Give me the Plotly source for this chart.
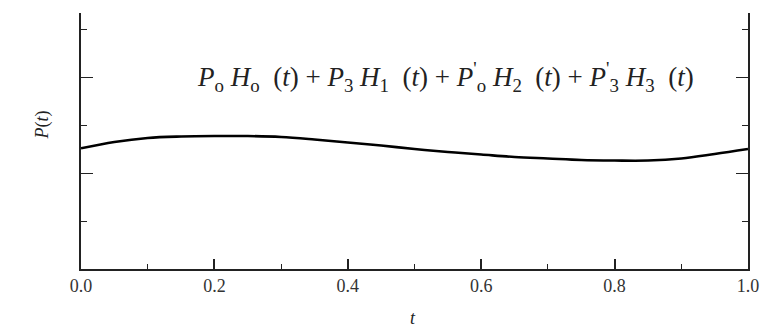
import plotly.graph_objects as go

t_vals = [0.0, 0.05, 0.1, 0.15, 0.2, 0.25, 0.3, 0.35, 0.4, 0.45, 0.5,
          0.55, 0.6, 0.65, 0.7, 0.75, 0.8, 0.85, 0.9, 0.95, 1.0]
p_vals = [1.257, 1.323, 1.365, 1.380, 1.385, 1.385, 1.375, 1.349, 1.318, 1.286, 1.250,
          1.219, 1.193, 1.167, 1.151, 1.135, 1.130, 1.130, 1.151, 1.198, 1.250]
x_tick_vals = [0.0, 0.2, 0.4, 0.6, 0.8, 1.0]
x_tick_text = ["0.0", "0.2", "0.4", "0.6", "0.8", "1.0"]

serif = "Liberation Serif"
sp = "&nbsp;"


def term(p_sub, h_sub, prime=False):
    pr = "<sup>'</sup>" if prime else ""
    return (f"<i>P</i>{pr}<sub>{p_sub}</sub>{sp}<i>H</i><sub>{h_sub}</sub>{sp}{sp}(<i>t</i>)")


formula = (term("o", "o") + f"{sp}+{sp}" + term("3", "1") + f"{sp}+{sp}" +
           term("o", "2", True) + f"{sp}+{sp}" + term("3", "3", True))

fig = go.Figure()
fig.add_trace(go.Scatter(x=t_vals, y=p_vals, mode="lines",
                         line=dict(color="black", width=2.6, shape="spline"),
                         showlegend=False, hoverinfo="skip"))

fig.add_annotation(
    x=0.547, y=2.0, xref="x", yref="y", showarrow=False,
    text=formula,
    font=dict(family=serif, size=27, color="#222"),
)
fig.add_annotation(
    x=-0.0765, y=0.5625, xref="paper", yref="paper", showarrow=False, textangle=-90,
    text="<i>P</i>(<i>t</i>)", font=dict(family=serif, size=18, color="#222"),
)
fig.add_annotation(
    x=0.498, y=-0.191, xref="paper", yref="paper", showarrow=False, yanchor="middle",
    text="<i>t</i>", font=dict(family=serif, size=18, color="#222"),
)

fig.update_layout(
    width=766, height=329,
    margin=dict(l=81, r=18, t=13, b=60, autoexpand=False),
    paper_bgcolor="white", plot_bgcolor="white",
    font=dict(family=serif, color="#222"),
    xaxis=dict(range=[0, 1], showgrid=False, zeroline=False, automargin=False,
               showline=True, linecolor="#222", linewidth=1.6,
               ticks="inside", ticklen=10, tickwidth=1.6, tickcolor="#222",
               tickvals=x_tick_vals, ticktext=x_tick_text,
               tickfont=dict(size=18, family=serif, color="#333"),
               minor=dict(dtick=0.1, ticks="inside", ticklen=5, tickwidth=1.4, tickcolor="#222"),
               mirror=False),
    yaxis=dict(range=[0, 2.667], showgrid=False, zeroline=False, automargin=False,
               showline=True, linecolor="#222", linewidth=1.6, mirror="ticks",
               ticks="inside", ticklen=12, tickwidth=1.4, tickcolor="#222",
               tick0=0, dtick=1, showticklabels=False,
               minor=dict(dtick=0.5, ticks="inside", ticklen=6, tickwidth=1.4, tickcolor="#222")),
)

fig.write_html("out.html", config={"displayModeBar": False},
               post_script="document.body.style.margin='0px';document.body.style.overflow='hidden';")
